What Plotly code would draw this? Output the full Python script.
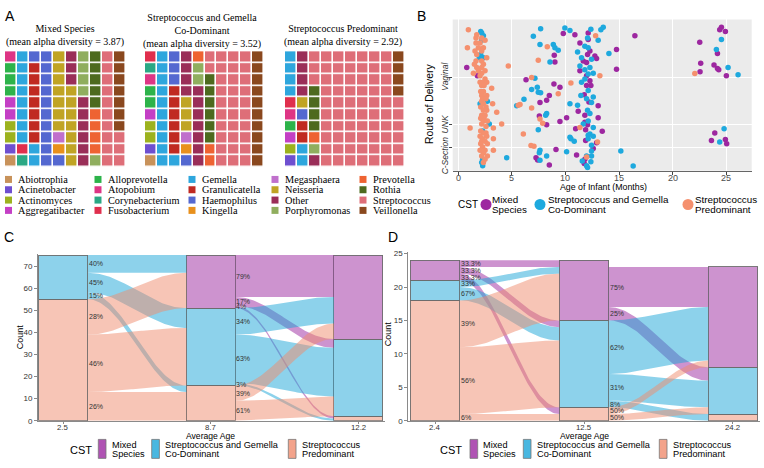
import plotly.graph_objects as go
import numpy as np

W, H = 764, 468

# ---------------- Panel A data ----------------
genera = ["Abiotrophia", "Acinetobacter", "Actinomyces", "Aggregatibacter",
          "Alloprevotella", "Atopobium", "Corynebacterium", "Fusobacterium",
          "Gemella", "Granulicatella", "Haemophilus", "Kingella",
          "Megasphaera", "Neisseria", "Other", "Porphyromonas",
          "Prevotella", "Rothia", "Streptococcus", "Veillonella"]
genus_colors = ["#C8925A", "#6E4FD0", "#9CB21E", "#C43FC5",
                "#2DB34A", "#DE3585", "#2AA884", "#E02F4D",
                "#2EA6DD", "#C02A22", "#5468D0", "#E8901C",
                "#C070CC", "#C0A424", "#9A2E58", "#90AE5E",
                "#EE6332", "#4D6A1E", "#DE6E78", "#8A481E"]
mixed_counts = [1, 1, 2, 2, 3, 1, 1, 1, 10, 7, 12, 1, 1, 14, 9, 5, 4, 5, 13, 7]
codom_counts = [1, 1, 2, 1, 2, 1, 1, 1, 11, 6, 4, 1, 1, 3, 11, 2, 3, 6, 32, 10]
strep_counts = [0, 1, 1, 1, 1, 1, 0, 1, 6, 2, 1, 0, 0, 1, 5, 1, 1, 4, 69, 4]
waffle_titles = ["Mixed Species<br>(mean alpha diversity = 3.87)",
                 "Streptococcus and Gemella<br>Co-Dominant<br>(mean alpha diversity = 3.52)",
                 "Streptococcus Predominant<br>(mean alpha diversity = 2.92)"]

# ---------------- Panel B data (age in months, jittered route position) ----------------
route_labels = ["C-Section", "UNK", "Vaginal"]
route_pos = [1, 2, 4]
age_ticks = [0, 5, 10, 15, 20, 25]
strep_pts = [(0.96,6.03),(1.74,5.82),(1.67,5.68),(2.20,5.68),(2.51,5.58),(1.67,5.47),(2.05,5.47),(0.87,5.26),
             (1.89,5.26),(2.36,5.26),(1.58,5.12),(2.20,5.12),(1.74,4.98),(2.67,4.84),(2.20,4.70),(1.67,4.70),
             (1.52,4.56),(2.36,4.56),(1.74,4.42),(2.20,4.42),(1.89,4.28),(2.51,4.28),(1.43,4.18),(2.20,4.18),
             (2.05,4.07),(2.51,3.93),(2.05,3.79),(2.36,3.79),(2.67,3.79),(2.20,3.65),(2.42,3.65),(3.13,3.54),
             (2.36,3.40),(2.11,3.40),(2.20,3.23),(2.67,3.23),(2.51,3.16),(2.29,3.09),(2.60,3.09),(2.20,2.98),
             (2.36,2.88),(3.22,2.88),(2.11,2.74),(2.60,2.74),(2.36,2.60),(2.67,2.60),(3.60,2.51),(2.20,2.39),
             (2.51,2.39),(2.42,2.28),(2.11,2.26),(2.36,2.14),(2.73,2.14),(2.20,2.01),(4.06,2.01),(2.60,1.91),
             (1.12,1.84),(3.29,1.84),(2.11,1.72),(2.36,1.63),(2.60,1.63),(2.67,1.49),(2.05,1.49),(2.29,1.39),
             (3.29,1.39),(2.20,1.28),(2.51,1.28),(2.11,1.17),(2.73,1.17),(2.29,1.03),(2.51,0.89),(3.29,0.89),
             (2.05,0.89),(2.36,0.79),(2.73,0.65),(2.20,0.65),(2.51,0.51),(2.36,0.37),(4.68,4.49),
             (8.31,5.30),(7.47,4.73),(6.85,4.00),(9.33,3.30),(5.77,2.84),(5.61,2.81),(6.85,2.70),(7.63,2.23),
             (7.88,2.05),(6.08,1.59),(6.79,1.10),(7.07,1.07),
             (12.81,5.77),(13.21,4.07),(10.51,3.76),(11.35,1.86),(12.99,1.25),(11.97,0.61),(22.05,4.17)]
codom_pts = [(2.11,5.96),(2.20,5.89),(2.36,5.77),(2.20,5.58),(2.11,4.98),(1.98,4.84),(2.36,4.84),(2.73,2.98),
             (2.05,2.88),(2.20,2.26),(2.91,2.01),(2.29,1.72),(2.29,0.51),(2.20,0.37),(2.29,0.23),(4.53,0.58),
             (7.01,5.75),(7.69,6.07),(7.63,5.40),(8.87,5.40),(9.02,5.26),(9.33,5.16),(8.56,4.66),(7.16,3.96),
             (7.38,3.58),(6.85,3.48),(7.47,3.37),(7.69,3.35),(6.14,3.07),(5.46,2.79),(8.25,2.46),(8.16,2.39),
             (7.47,1.77),(7.63,0.89),(7.57,0.79),(7.63,0.47),(8.25,0.65),
             (9.95,6.10),(10.42,6.00),(12.37,6.05),(13.52,6.14),(13.30,6.03),(13.05,5.58),(12.06,5.68),(11.81,5.33),
             (12.12,5.26),(11.13,5.08),(11.50,4.84),(12.43,4.77),(11.35,4.49),(12.28,4.42),(11.81,4.32),(12.12,4.14),
             (12.59,4.18),(11.81,3.93),(11.50,3.79),(12.12,3.44),(11.44,3.23),(12.59,3.16),(11.97,3.09),(12.43,2.93),
             (10.42,2.88),(11.13,2.81),(12.06,2.60),(12.28,2.46),(12.12,2.14),(11.66,2.01),(12.59,1.86),(12.28,1.59),
             (12.12,1.53),(12.59,1.49),(10.42,1.45),(10.51,1.39),(10.82,1.28),(12.12,1.39),(12.43,1.11),(12.43,0.86),
             (10.11,0.83),(11.97,0.65),(12.43,0.65),(11.57,0.44),(12.37,0.41),(11.97,0.23),(12.06,0.16),(14.05,5.02),
             (15.16,0.86),(16.31,0.22),
             (24.53,5.61),(24.06,5.19),(25.15,4.42),(26.08,4.11),(24.78,1.81),(24.37,1.25)]
mixed_pts = [(0.81,4.42),(1.80,4.07),(8.96,4.94),(9.02,4.66),(6.33,3.90),(8.93,3.72),(9.49,3.58),(8.50,3.23),
             (8.25,3.02),(7.63,2.93),(7.57,2.35),(9.49,2.12),(8.25,1.98),(9.12,0.93),(7.26,0.58),(7.41,0.48),
             (8.50,0.27),(9.80,5.87),
             (10.88,5.82),(12.12,5.89),(11.35,5.47),(12.12,5.61),(12.28,5.12),(12.06,4.98),(12.74,4.91),(12.90,4.80),
             (11.66,4.70),(11.97,4.63),(11.35,4.28),(11.97,4.07),(12.28,3.86),(11.97,3.65),(12.37,3.65),(11.75,3.26),
             (12.19,2.95),(13.05,2.79),(11.19,2.56),(11.81,2.39),(13.05,2.28),(10.11,2.28),(11.81,2.09),(12.06,1.98),
             (10.95,1.81),(11.88,1.77),(13.43,1.70),(11.88,1.31),(12.90,1.21),(12.59,0.97),(11.04,0.69),(11.81,0.51),
             (11.75,0.33),(14.76,5.19),(14.76,4.35),(16.47,5.77),
             (24.53,6.14),(24.37,6.03),(24.90,5.96),(22.51,5.50),(24.16,5.02),(22.60,4.60),(23.84,4.53),(24.16,4.38),
             (24.28,4.32),(22.54,4.24),(24.99,4.07),(23.91,1.63),(23.60,1.31),(24.90,1.35),(25.02,1.17)]

# ---------------- Panels C and D data ----------------
cst_line1 = ["Mixed", "Streptococcus and Gemella", "Streptococcus"]
cst_line2 = ["Species", "Co-Dominant", "Predominant"]
# order of rows/cols in matrices: [Mixed, CoDom, Strep]
C_ages = ["2.5", "8.7", "12.2"]
C_mixed = [0, 24, 38]
C_codom = [20, 35, 35]
C_strep = [55, 16, 2]
C_flows_1 = [[0, 0, 0], [8, 9, 3], [16, 26, 13]]
C_labels_1 = [["", "", ""], ["40%", "45%", "15%"], ["28%", "46%", "26%"]]
C_flows_2 = [[19, 4, 1], [12, 22, 1], [7, 9, 0]]
C_labels_2 = [["79%", "17%", "4%"], ["34%", "63%", "3%"], ["39%", "61%", ""]]

D_ages = ["2.4", "12.5", "24.2"]
D_mixed = [3, 9, 15]
D_codom = [3, 13, 7]
D_strep = [18, 2, 1]
D_flows_1 = [[1, 1, 1], [1, 2, 0], [7, 10, 1]]
D_labels_1 = [["33.3%", "33.3%", "33.3%"], ["33%", "67%", ""], ["39%", "56%", "6%"]]
D_flows_2 = [[6, 2, 0], [8, 4, 1], [1, 1, 0]]
D_labels_2 = [["75%", "25%", ""], ["62%", "31%", "8%"], ["50%", "50%", ""]]

# ---------------- styles ----------------
PT_COL = ["#9D27A0", "#1EA9DE", "#F5906E"]
BASE = [(155, 40, 160), (27, 165, 216), (240, 140, 110)]
SERIF = "Liberation Serif, Times New Roman, serif"
SANS = "Liberation Sans, Arial, sans-serif"


def rgba(c, a):
    return "rgba(%d,%d,%d,%.2f)" % (c[0], c[1], c[2], a)


def px(x):
    return x / W


def py(y):
    return 1 - y / H


fig = go.Figure()
layout = {}
ann = []
shapes = []


def text(x, y, s, size, font=SANS, color="#000", xanchor="center", yanchor="middle", angle=0):
    ann.append(dict(x=px(x), y=py(y), xref="paper", yref="paper", text=s, showarrow=False,
                    xanchor=xanchor, yanchor=yanchor, textangle=angle, borderpad=0, borderwidth=0,
                    font=dict(family=font, size=size, color=color)))


# ---------------- Panel A ----------------
n = len(genera)
cs = []
for i, c in enumerate(genus_colors):
    cs += [[i / n, c], [(i + 1) / n, c]]
waffle_dom = [(5, 126), (145, 264), (285, 405)]
title_pos = [(65, 33), (202, 28), (343, 33.5)]
for w, counts in enumerate([mixed_counts, codom_counts, strep_counts]):
    cells = []
    for gi, c in enumerate(counts):
        cells += [gi] * c
    z = np.zeros((10, 10))
    for k, gi in enumerate(cells):
        z[k % 10, k // 10] = gi + 0.5
    ax = "" if w == 0 else str(w + 1)
    fig.add_trace(go.Heatmap(z=z, colorscale=cs, zmin=0, zmax=n, showscale=False,
                             xgap=1.6, ygap=1.6, xaxis="x" + ax, yaxis="y" + ax, hoverinfo="skip"))
    xl, xr = waffle_dom[w]
    layout["xaxis" + ax] = dict(domain=[px(xl), px(xr)], range=[-0.5, 9.5], visible=False, anchor="y" + ax)
    layout["yaxis" + ax] = dict(domain=[py(167), py(49)], range=[-0.5, 9.5], visible=False, anchor="x" + ax)
    text(title_pos[w][0], title_pos[w][1], waffle_titles[w], 10, font=SERIF)

# legend of panel A (pixel overlay axis)
col_x = [8.5, 98, 192, 275, 363]
row_y = [179.5, 190, 200.5, 211]
leg_x = [col_x[i // 4] for i in range(n)]
leg_y = [row_y[i % 4] for i in range(n)]
fig.add_trace(go.Scatter(x=leg_x, y=leg_y, mode="markers", xaxis="x7", yaxis="y7",
                         marker=dict(symbol="square", size=7, color=genus_colors),
                         hoverinfo="skip", showlegend=False))
for i, g in enumerate(genera):
    text(leg_x[i] + 9.5, leg_y[i], g, 10.3, font=SERIF, xanchor="left")

# ---------------- Panel B ----------------
for k, pts in enumerate([mixed_pts, codom_pts, strep_pts]):
    fig.add_trace(go.Scatter(x=[p[0] for p in pts], y=[p[1] for p in pts], mode="markers",
                             xaxis="x4", yaxis="y4", hoverinfo="skip", showlegend=False,
                             marker=dict(size=5.5, color=PT_COL[k], line=dict(width=0))))
layout["xaxis4"] = dict(domain=[px(452.7), px(751.7)], range=[-0.5, 27.35], tickvals=age_ticks,
                        showticklabels=False,
                        showgrid=True, gridcolor="white", gridwidth=1, ticks="outside", ticklen=3,
                        tickcolor="#444", showline=True, linecolor="#666", linewidth=1, zeroline=False,
                        anchor="y4")
layout["yaxis4"] = dict(domain=[py(170.7), py(16.7)], range=[0.02, 6.47], tickvals=route_pos,
                        showticklabels=False, showgrid=True, gridcolor="white", gridwidth=1,
                        ticks="outside", ticklen=3, tickcolor="#444", zeroline=False, anchor="x4")
shapes.append(dict(type="rect", xref="x4 domain", yref="y4 domain", x0=0, x1=1, y0=0, y1=1,
                   fillcolor="#EBEBEB", line=dict(width=0), layer="below"))
for tv in age_ticks:
    ann.append(dict(x=tv, y=py(178), xref="x4", yref="paper", text=str(tv), showarrow=False,
                    xanchor="center", yanchor="middle", borderpad=0, borderwidth=0,
                    font=dict(family=SANS, size=9, color="#4D4D4D")))
route_label_y = [155, 123.5, 75]
for lab, yy in zip(route_labels, route_label_y):
    text(445, yy, "<i>%s</i>" % lab, 8.5, color="#333", angle=-90)
text(430, 101.7, "Route of Delivery", 10.4, angle=-90)
text(603, 187.5, "Age of Infant (Months)", 8.8)
# legend B
text(468, 204.5, "CST", 10)
leg_b_x = [486, 540, 688]
fig.add_trace(go.Scatter(x=leg_b_x, y=[205, 205, 205], mode="markers", xaxis="x7", yaxis="y7",
                         marker=dict(size=11, color=PT_COL), hoverinfo="skip", showlegend=False))
leg_b_tx = [491.7, 548.3, 695]
for k in range(3):
    text(leg_b_tx[k], 199.5, cst_line1[k], 9.8, xanchor="left")
    text(leg_b_tx[k], 210.3, cst_line2[k], 9.8, xanchor="left")


# ---------------- Panels C, D: alluvial ----------------
def alluvial(xa, ya, strata, ages, flows_list, labels_list):
    T = len(strata[0])
    stack = [2, 1, 0]  # bottom -> top: Strep, CoDom, Mixed
    s = np.linspace(0, 1, 60)
    f = (1 - np.cos(np.pi * s)) / 2
    for t, (F, L) in enumerate(zip(flows_list, labels_list)):
        x0 = t + 1 + 1 / 6
        x1 = t + 2 - 1 / 6
        src, dst = {}, {}
        cum = 0
        for o in stack:
            for d in stack:
                if F[o][d]:
                    src[(o, d)] = (cum, cum + F[o][d])
                    cum += F[o][d]
        cum = 0
        for d in stack:
            for o in stack:
                if F[o][d]:
                    dst[(o, d)] = (cum, cum + F[o][d])
                    cum += F[o][d]
        for o in [0, 1, 2]:
            for d in [0, 1, 2]:
                if (o, d) not in src:
                    continue
                a0, a1 = src[(o, d)]
                b0, b1 = dst[(o, d)]
                xs = x0 + (x1 - x0) * s
                top = a1 + (b1 - a1) * f
                bot = a0 + (b0 - a0) * f
                fig.add_trace(go.Scatter(x=np.concatenate([xs, xs[::-1]]), y=np.concatenate([top, bot[::-1]]),
                                         mode="lines", fill="toself", fillcolor=rgba(BASE[o], 0.5),
                                         line=dict(width=0), xaxis=xa, yaxis=ya, hoverinfo="skip",
                                         showlegend=False))
                if L[o][d]:
                    ann.append(dict(x=x0, y=(a0 + a1) / 2, xref=xa, yref=ya, text=L[o][d], showarrow=False,
                                    xanchor="left", yanchor="middle", xshift=1, borderpad=0, borderwidth=0,
                                    font=dict(family=SANS, size=7, color="#333")))
    for k in stack:
        fig.add_trace(go.Bar(x=list(range(1, T + 1)), y=[v if v else None for v in strata[k]], width=1 / 3,
                             marker=dict(color=rgba(BASE[k], 0.5), line=dict(color="#6B6B6B", width=0.9)),
                             xaxis=xa, yaxis=ya, hoverinfo="skip", showlegend=False))
    for i, a in enumerate(ages):
        ann.append(dict(x=i + 1, y=py(431.5), xref=xa, yref="paper", text=a, showarrow=False,
                        xanchor="center", yanchor="middle", borderpad=0, borderwidth=0,
                        font=dict(family=SANS, size=7.8, color="#333")))


alluvial("x5", "y5", [C_mixed, C_codom, C_strep], C_ages, [C_flows_1, C_flows_2], [C_labels_1, C_labels_2])
alluvial("x6", "y6", [D_mixed, D_codom, D_strep], D_ages, [D_flows_1, D_flows_2], [D_labels_1, D_labels_2])

ax_common = dict(showline=True, linecolor="#8A8A8A", linewidth=1, ticks="outside",
                 tickcolor="#8A8A8A", tickfont=dict(family=SANS, size=8, color="#333"),
                 showgrid=False, zeroline=False)
layout["xaxis5"] = dict(domain=[px(38), px(385)], range=[0.828, 3.181], tickvals=[1, 2, 3], ticklen=2,
                        showticklabels=False, anchor="y5", **ax_common)
layout["yaxis5"] = dict(domain=[py(425), py(255.8)], range=[0, 75.3], tickvals=list(range(0, 71, 10)),
                        ticklen=3, anchor="x5", **ax_common)
layout["xaxis6"] = dict(domain=[px(408.2), px(759.8)], range=[0.82, 3.18], tickvals=[1, 2, 3], ticklen=2,
                        showticklabels=False, anchor="y6", **ax_common)
layout["yaxis6"] = dict(domain=[py(425), py(253.6)], range=[0, 25.2], tickvals=[0, 5, 10, 15, 20, 25],
                        ticklen=3, anchor="x6", **ax_common)
text(210.7, 440.8, "Average Age", 8.6)
text(584, 440.8, "Average Age", 8.6)
text(20, 340, "Count", 9, angle=-90)
text(388, 337, "Count", 9, angle=-90)

# legends C and D
key_x = [[98.3, 151.7, 288.3], [470, 523.3, 659.3]]
key_tx = [[111.7, 165, 301.7], [483.3, 536.7, 673.3]]
cst_x = [81, 451]
for p in range(2):
    text(cst_x[p], 454.5, "CST", 11)
    for k in range(3):
        shapes.append(dict(type="rect", xref="paper", yref="paper", x0=px(key_x[p][k]), x1=px(key_x[p][k] + 7.7),
                           y0=py(463.3), y1=py(444), fillcolor=rgba(BASE[k], 0.8),
                           line=dict(color="#777", width=0.8)))
        text(key_tx[p][k], 449.5, cst_line1[k], 9.2, xanchor="left")
        text(key_tx[p][k], 459.3, cst_line2[k], 9.2, xanchor="left")

# panel letters
for lab, (xx, yy) in zip("ABCD", [(10, 13), (421, 13), (9, 238), (393, 238)]):
    text(xx, yy, lab, 14)

layout["xaxis7"] = dict(domain=[0, 1], range=[0, W], visible=False, anchor="y7")
layout["yaxis7"] = dict(domain=[0, 1], range=[H, 0], visible=False, anchor="x7")

fig.update_layout(width=W, height=H, margin=dict(l=0, r=0, t=0, b=0), paper_bgcolor="white",
                  plot_bgcolor="rgba(0,0,0,0)", showlegend=False, barmode="stack", hovermode=False,
                  annotations=ann, shapes=shapes, **layout)
fig.write_html("out.html", config={"displayModeBar": False, "staticPlot": True},
               post_script="document.body.style.margin='0px';document.body.style.padding='0px';")
